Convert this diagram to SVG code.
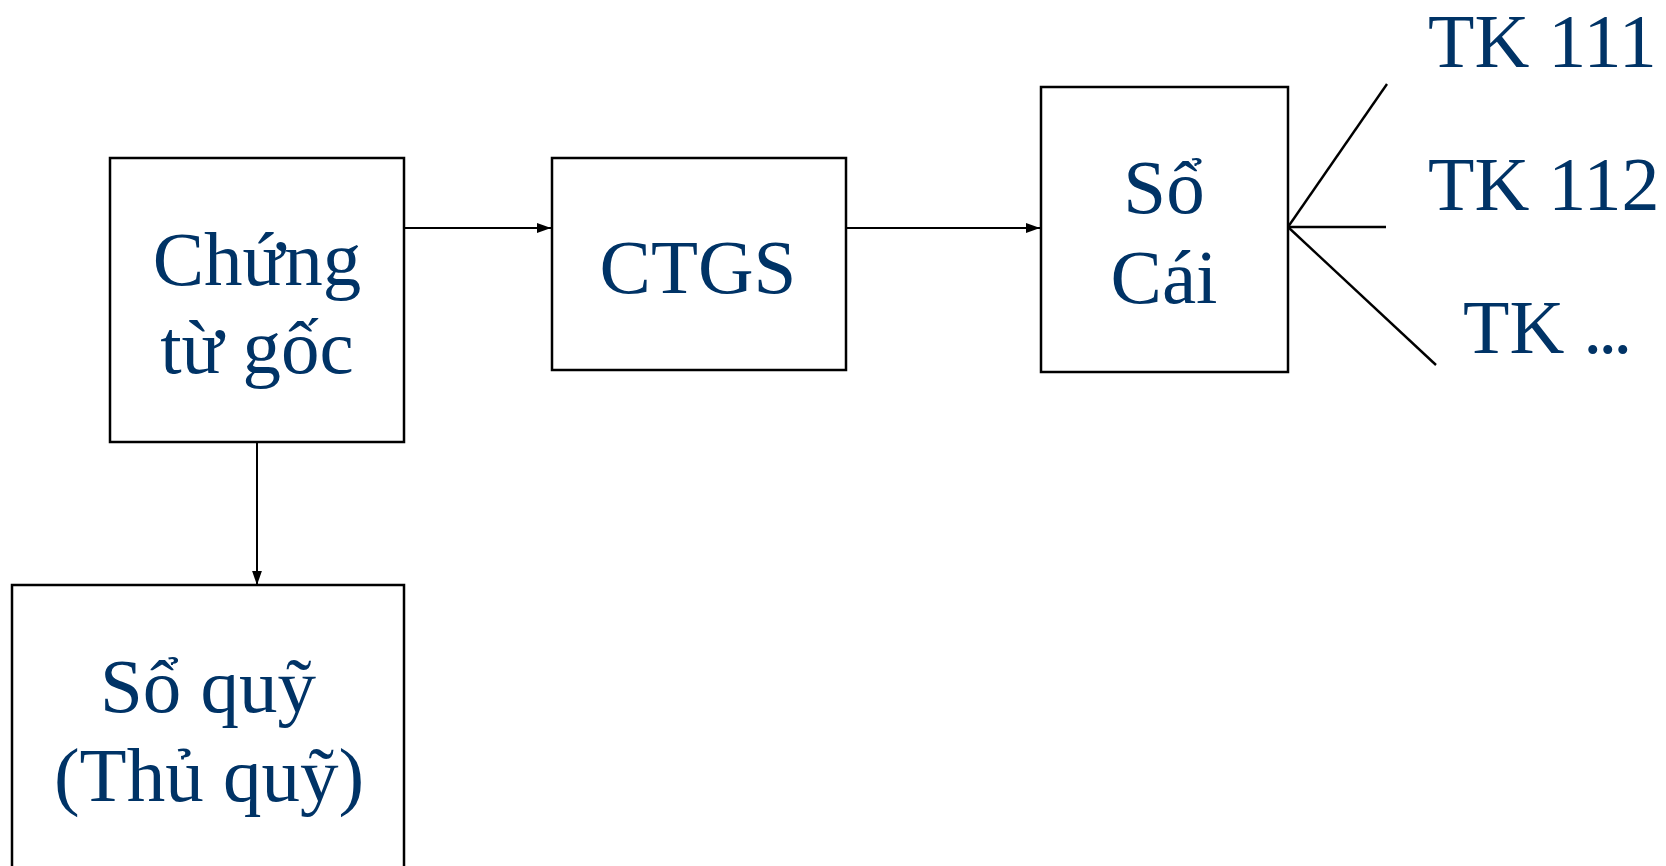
<svg xmlns="http://www.w3.org/2000/svg" width="1666" height="866" viewBox="0 0 1666 866">
  <style>
    .box { fill: #ffffff; stroke: #000000; stroke-width: 2.5; }
    .label { font-family: "Liberation Serif", "Times New Roman", serif; font-size: 77px; fill: #003366; text-anchor: middle; }
    .acct { font-family: "Liberation Serif", "Times New Roman", serif; font-size: 76px; fill: #003366; }
    .link { stroke: #000000; stroke-width: 2; fill: none; }
    .branch { stroke: #000000; stroke-width: 2.4; fill: none; }
  </style>
  <defs>
    <marker id="arrow" viewBox="0 0 10 10" refX="10" refY="5" markerWidth="14" markerHeight="14" markerUnits="userSpaceOnUse" orient="auto">
      <path d="M0,1.5 L10,5 L0,8.5 Z" fill="#000000"/>
    </marker>
  </defs>
  <rect width="1666" height="866" fill="#ffffff"/>

  <!-- connectors -->
  <g id="connectors">
    <line class="link" x1="404" y1="228" x2="551" y2="228" marker-end="url(#arrow)"/>
    <line class="link" x1="846" y1="228" x2="1040" y2="228" marker-end="url(#arrow)"/>
    <line class="link" x1="257" y1="442" x2="257" y2="585" marker-end="url(#arrow)"/>
    <line class="branch" x1="1288" y1="227" x2="1387" y2="84"/>
    <line class="branch" x1="1288" y1="227" x2="1386" y2="227" stroke-width="4.5"/>
    <line class="branch" x1="1288" y1="227" x2="1436" y2="365"/>
  </g>

  <g id="chung-tu-goc">
    <rect class="box" x="110" y="158" width="294" height="284"/>
    <text class="label" x="257" y="285">Chứng</text>
    <text class="label" x="257" y="373">từ gốc</text>
  </g>

  <g id="ctgs">
    <rect class="box" x="552" y="158" width="294" height="212"/>
    <text class="label" x="698" y="293">CTGS</text>
  </g>

  <g id="so-cai">
    <rect class="box" x="1041" y="87" width="247" height="285"/>
    <text class="label" x="1164" y="213">Sổ</text>
    <text class="label" x="1164" y="303">Cái</text>
  </g>

  <g id="so-quy">
    <rect class="box" x="12" y="585" width="392" height="300"/>
    <text class="label" x="208" y="712">Sổ quỹ</text>
    <text class="label" x="209" y="801">(Thủ quỹ)</text>
  </g>

  <g id="accounts">
    <text class="acct" x="1428" y="67">TK 111</text>
    <text class="acct" x="1428" y="210">TK 112</text>
    <text class="acct" x="1463" y="353">TK <tspan letter-spacing="-4">...</tspan></text>
  </g>
</svg>
